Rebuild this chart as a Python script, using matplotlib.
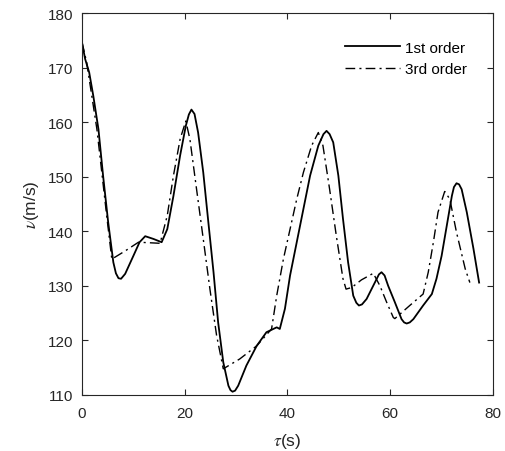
import matplotlib
matplotlib.use("Agg")
import matplotlib.pyplot as plt

plt.rcParams['font.family'] = ['Liberation Sans', 'DejaVu Sans']
plt.rcParams['mathtext.fontset'] = 'stix'

# 1st order (solid)
t1 = [0.0, 0.6, 1.4, 2.2, 3.2, 4.1, 5.1, 6.1, 6.6, 7.1, 7.6, 8.4, 10.0, 11.2, 12.3,
      13.9, 15.5, 16.6, 17.8, 19.1, 20.2, 20.8, 21.3, 21.9, 22.6, 23.6, 24.6,
      25.6, 26.5, 27.5, 28.5, 28.9, 29.3, 29.8, 30.4, 32.0, 34.0, 35.9, 37.9,
      38.5, 39.5, 40.5, 41.8, 43.1, 44.4, 46.0, 47.0, 47.6, 48.2, 48.9, 49.9,
      50.8, 51.8, 52.8, 53.4, 53.9, 54.5, 55.4, 57.0, 57.8, 58.3, 58.9, 59.6,
      60.9, 62.2, 62.7, 63.2, 63.8, 64.5, 66.4, 68.1, 69.0, 70.0, 71.0, 72.0,
      72.4, 72.9, 73.4, 73.9, 74.9, 76.2, 77.3]
v1 = [174.6, 171.6, 169.1, 164.8, 158.7, 150.2, 141.6, 134.3, 132.3, 131.4,
      131.3, 132.2, 135.5, 138.0, 139.1, 138.6, 138.0, 140.4, 146.5, 153.9,
      159.3, 161.4, 162.3, 161.5, 158.1, 150.8, 141.6, 132.5, 123.3, 116.0,
      111.7, 110.9, 110.6, 110.8, 111.7, 115.4, 119.0, 121.5, 122.4, 122.1,
      125.8, 131.9, 138.0, 144.1, 150.2, 155.7, 157.8, 158.4, 157.8, 156.3,
      150.2, 142.3, 134.3, 128.2, 126.9, 126.4, 126.6, 127.6, 130.6, 132.1,
      132.5, 131.9, 130.0, 127.0, 123.9, 123.3, 123.1, 123.3, 123.9, 126.4,
      128.5, 131.3, 135.5, 141.0, 146.5, 148.1, 148.8, 148.6, 147.7, 143.5,
      136.8, 130.6]

# 3rd order (dash-dot)
t3 = [0.0, 0.9, 2.9, 4.8, 5.8, 8.4, 11.0, 15.2, 16.6, 17.8, 19.1, 20.2, 21.0,
      22.3, 23.6, 24.9, 26.2, 27.5, 30.7, 34.0, 36.9, 37.9, 39.2, 40.5, 41.8,
      43.1, 44.7, 46.0, 46.9, 48.2, 49.5, 50.8, 51.4, 52.5, 54.4, 56.7, 58.0,
      59.3, 60.6, 60.9, 63.8, 66.4, 67.4, 68.4, 69.3, 70.6, 71.6, 72.9, 74.6,
      75.5]
v3 = [174.6, 171.0, 158.7, 142.9, 134.9, 136.4, 138.0, 137.8, 142.9, 150.2,
      156.9, 160.2, 156.9, 147.7, 138.6, 129.4, 120.9, 114.8, 116.6, 119.0,
      122.1, 128.2, 134.9, 140.4, 145.9, 150.8, 155.7, 158.1, 155.7, 147.7,
      139.2, 131.3, 129.4, 129.7, 131.1, 132.3, 130.0, 127.0, 124.2, 124.0,
      126.4, 128.5, 132.5, 138.0, 143.5, 147.3, 145.9, 139.8, 133.1, 130.6]

xticks = [0, 20, 40, 60, 80]
yticks = [110, 120, 130, 140, 150, 160, 170, 180]

fig = plt.figure(figsize=(5.05, 4.52), dpi=100)
ax = fig.add_axes([0.1624, 0.1239, 0.8138, 0.8451])

ax.plot(t1, v1, color='black', lw=1.3, linestyle='-', label='1st order')
ax.plot(t3, v3, color='black', lw=1.0, linestyle=(0, (7, 3, 1.5, 3)), label='3rd order')

ax.set_xlim(0, 80)
ax.set_ylim(110, 180)
ax.set_xticks(xticks)
ax.set_yticks(yticks)
ax.tick_params(direction='in', top=True, right=True, length=4, width=0.8,
               labelsize=11, colors='#262626')
ax.tick_params(axis='x', pad=8)
ax.tick_params(axis='y', pad=6)
for s in ax.spines.values():
    s.set_color('#262626')
    s.set_linewidth(0.8)

ax.set_xlabel(r'$\tau$(s)', fontsize=12.5, color='#262626', labelpad=8)
ax.set_ylabel(r'$\nu$(m/s)', fontsize=12.5, color='#262626', labelpad=5)

leg = ax.legend(loc='upper right', frameon=False, fontsize=11,
                handlelength=3.6, handletextpad=0.33, borderaxespad=0.6,
                labelspacing=0.5, bbox_to_anchor=(0.975, 0.968))

fig.savefig('out.png', dpi=100)
